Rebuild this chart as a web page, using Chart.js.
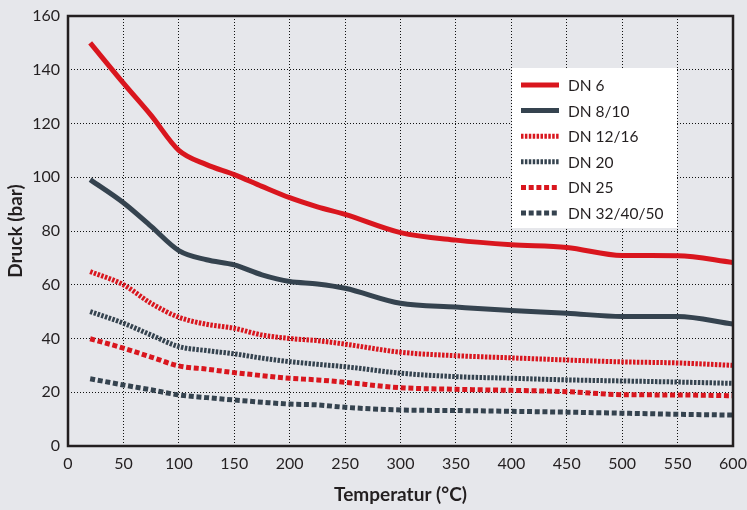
<!DOCTYPE html>
<html><head><meta charset="utf-8">
<script src="https://cdn.jsdelivr.net/npm/chart.js@4.4.0/dist/chart.umd.min.js"></script>
<style>
html,body{margin:0;padding:0;background:#e6e7eb;}
#wrap{width:747px;height:510px;position:relative;}
</style></head>
<body><div id="wrap"><canvas id="c" width="747" height="510"></canvas></div>
<script>
const temps = [20,50,75,100,125,150,175,200,225,250,300,350,400,450,500,550,600];
const seriesNames = ["DN 6","DN 8/10","DN 12/16","DN 20","DN 25","DN 32/40/50"];
const dn6     = [150,135,123,110,104.7,101,96.6,92.4,89,86.2,79.4,76.6,74.9,73.9,70.9,70.8,68.3];
const dn8_10  = [99.1,90.5,81.7,72.7,69.3,67.4,63.7,61.2,60.3,58.7,53.1,51.7,50.4,49.4,48.2,48.2,45.4];
const dn12_16 = [64.9,60,53.1,47.9,45.3,43.8,41.3,40,39.2,37.9,34.9,33.6,32.8,32,31.3,30.9,30];
const dn20    = [50,45.7,41.3,37,35.5,34.3,32.7,31.4,30.4,29.5,27.1,25.8,25.2,24.6,24.2,23.8,23.3];
const dn25    = [39.9,36.4,33.1,29.8,28.6,27.3,26.2,25.2,24.6,23.7,21.7,21.1,20.7,20.2,19.1,19,18.7];
const dn32_50 = [25,22.7,20.9,19,18,17.1,16.3,15.6,15.3,14.4,13.4,13.2,12.9,12.6,12.2,11.8,11.5];
const xTicks = [0,50,100,150,200,250,300,350,400,450,500,550,600];
const yTicks = [0,20,40,60,80,100,120,140,160];

const RED = "#d9161e", DARK = "#35434f";
const styles = [
  {c:RED, d:[]}, {c:DARK, d:[]},
  {c:RED, d:[2.5,1.4]}, {c:DARK, d:[2.5,1.4]},
  {c:RED, d:[5,2.7]}, {c:DARK, d:[5,2.7]}
];
const allVals = [dn6,dn8_10,dn12_16,dn20,dn25,dn32_50];
const datasets = allVals.map((vals,i)=>({
  label: seriesNames[i],
  data: temps.map((t,j)=>({x:t,y:vals[j]})),
  borderColor: styles[i].c,
  borderDash: styles[i].d,
  borderWidth: 5,
  pointRadius: 0,
  tension: 0.4,
  cubicInterpolationMode: 'monotone',
  fill: false,
  borderCapStyle: 'butt'
}));

const frame = {
  id:'frame',
  beforeDraw(chart){
    const ctx=chart.ctx; ctx.save(); ctx.fillStyle="#e6e7eb"; ctx.fillRect(0,0,chart.width,chart.height); ctx.restore();
  },
  afterDatasetsDraw(chart){
    const a=chart.chartArea, ctx=chart.ctx;
    const lx=512, ly=68, lw=165, lh=160;
    ctx.save();
    ctx.fillStyle="#ffffff"; ctx.fillRect(lx,ly,lw,lh);
    ctx.font="15.5px Lato"; ctx.textBaseline="middle"; ctx.fillStyle="#231f20";
    chart.data.datasets.forEach((ds,i)=>{
      const y=85+i*25.6;
      ctx.beginPath(); ctx.setLineDash(ds.borderDash); ctx.lineWidth=5; ctx.strokeStyle=ds.borderColor; ctx.lineCap='butt';
      ctx.moveTo(521,y); ctx.lineTo(559,y); ctx.stroke();
      ctx.setLineDash([]);
      ctx.fillText(ds.label,568,y+1);
    });
    ctx.strokeStyle="#231f20"; ctx.lineWidth=2.5;
    ctx.strokeRect(a.left,a.top,a.right-a.left,a.bottom-a.top);
    ctx.restore();
  }
};

new Chart(document.getElementById('c'),{
  type:'line',
  data:{datasets},
  plugins:[frame],
  options:{
    responsive:false, animation:false,
    layout:{padding:{left:0,right:14,top:16,bottom:0}},
    plugins:{legend:{display:false},tooltip:{enabled:false}},
    scales:{
      x:{type:'linear',min:0,max:600,
        afterBuildTicks(s){s.ticks=xTicks.map(v=>({value:v}));},
        afterFit(s){s.height=64; s.paddingRight=0; s.paddingLeft=0;},
        grid:{color:"#111",lineWidth:1,drawTicks:false},
        border:{display:false,dash:[1,2]},
        ticks:{padding:8,color:"#231f20",font:{family:"Lato",size:16},maxRotation:0},
        title:{display:true,text:"Temperatur (°C)",color:"#231f20",font:{family:"Lato",size:19,weight:'bold'},padding:{top:4}}
      },
      y:{min:0,max:160,
        afterBuildTicks(s){s.ticks=yTicks.map(v=>({value:v}));},
        afterFit(s){s.width=68; s.paddingTop=0; s.paddingBottom=0;},
        grid:{color:"#111",lineWidth:1,drawTicks:false},
        border:{display:false,dash:[1,2]},
        ticks:{padding:8,color:"#231f20",font:{family:"Lato",size:16}},
        title:{display:true,text:"Druck (bar)",color:"#231f20",font:{family:"Lato",size:19,weight:'bold'},padding:{bottom:2}}
      }
    }
  }
});
</script></body></html>
